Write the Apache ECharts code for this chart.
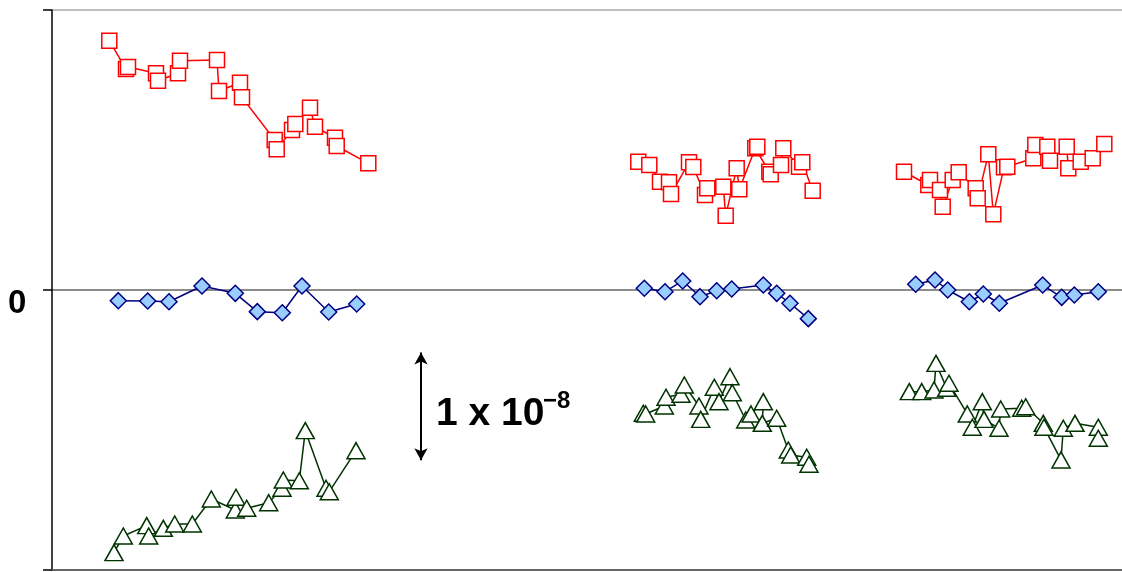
<!DOCTYPE html>
<html>
<head>
<meta charset="utf-8">
<script src="https://cdn.jsdelivr.net/npm/echarts@6/dist/echarts.min.js"></script>
<style>html,body{margin:0;padding:0;background:#fff;}#c{width:1122px;height:572px;}</style>
</head>
<body>
<div id="c"></div>
<script>
// values in units of 1e-8; x in arbitrary time units
const red1 = [[57.3,2.315],[74,2.052],[76,2.071],[104,2.012],[106,1.943],[126,2.012],[128,2.129],[165,2.136],[167,1.848],[188,1.925],[190,1.789],[222.7,1.393],[224.7,1.306],[240,1.486],[243.3,1.541],[258,1.693],[263,1.516],[283,1.414],[284.7,1.337],[316.3,1.176]];
const red2 = [[586.3,1.191],[597.3,1.161],[608,1.006],[617,1.0],[619,0.891],[637,1.186],[641.3,1.142],[653,0.882],[655.3,0.944],[671.3,0.959],[673.7,0.690],[684.7,1.130],[687.3,0.935],[703.3,1.316],[705.3,1.331],[717.3,1.098],[718.7,1.074],[729,1.161],[731.3,1.316],[747,1.145],[750.3,1.186],[760.7,0.922]];
const red3 = [[852,1.098],[876.3,0.975],[878,1.021],[888,0.929],[890.7,0.773],[900.7,1.021],[906.7,1.093],[923.7,0.944],[925.7,0.851],[936.3,1.260],[941.3,0.703],[952,1.139],[955.3,1.145],[981.3,1.223],[983.3,1.346],[995.3,1.331],[998,1.201],[1014.7,1.331],[1016.3,1.130],[1028.7,1.191],[1040.7,1.223],[1052.3,1.356]];
const blue1 = [[66.3,-0.099],[95.7,-0.102],[117,-0.109],[150,0.037],[183.3,-0.031],[205.3,-0.201],[230.3,-0.211],[250,0.037],[276.7,-0.204],[304.7,-0.130]];
const blue2 = [[592.3,0.016],[613,-0.016],[630.7,0.084],[648,-0.062],[664.7,-0.007],[679.7,0.009],[711.3,0.046],[724.7,-0.031],[738,-0.123],[756.3,-0.266]];
const blue3 = [[863.7,0.053],[883,0.093],[895.7,0.0],[917.3,-0.109],[931.3,-0.037],[947.3,-0.123],[990.7,0.046],[1009.7,-0.068],[1022.3,-0.046],[1046.3,-0.016]];
const green1 = [[62,-2.439],[71.3,-2.284],[94.7,-2.188],[96.7,-2.284],[111.3,-2.213],[122.7,-2.173],[140.3,-2.173],[159.3,-1.941],[183.3,-2.043],[184,-1.925],[194.7,-2.027],[216.7,-1.975],[230,-1.841],[231.3,-1.764],[247.3,-1.771],[253.3,-1.306],[274,-1.841],[277.3,-1.873],[304,-1.492]];
const green2 = [[591.3,-1.145],[593.7,-1.151],[612.3,-1.077],[614,-0.996],[629,-0.968],[632.3,-0.882],[647,-1.077],[648.7,-1.201],[662.3,-0.903],[667,-1.037],[678,-0.805],[680.3,-0.954],[693.7,-1.207],[699,-1.151],[711.3,-1.037],[710.3,-1.238],[724.7,-1.191],[736.3,-1.486],[738.7,-1.532],[754.7,-1.553],[757,-1.618]];
const green3 = [[857.3,-0.944],[869.7,-0.944],[882,-0.929],[884,-0.681],[894.7,-0.913],[897,-0.866],[915.3,-1.151],[920.3,-1.275],[930.3,-1.037],[932,-1.201],[947,-1.284],[948.7,-1.105],[969.7,-1.098],[973.7,-1.084],[991.3,-1.238],[992,-1.275],[1009,-1.578],[1011.3,-1.284],[1023,-1.238],[1046.3,-1.275],[1046.3,-1.377]];
const scaleBar = { x: 369, from: -0.58, to: -1.58 };
const scaleText = '1 x 10';
const scaleExp = '\u22128';
const zeroLabel = '0';

const chart = echarts.init(document.getElementById('c'));
function redS(d){return {type:'line',data:d,symbol:'rect',symbolSize:15,lineStyle:{color:'#ff0000',width:1.5},itemStyle:{color:'#ffffff',borderColor:'#ff0000',borderWidth:1.5},z:3,silent:true,animation:false};}
function blueS(d){return {type:'line',data:d,symbol:'diamond',symbolSize:16,lineStyle:{color:'#000080',width:1.5},itemStyle:{color:'#99ccff',borderColor:'#000080',borderWidth:1.5},z:4,silent:true,animation:false};}
function greenS(d){return {type:'line',data:d,symbol:'triangle',symbolSize:[18,16],lineStyle:{color:'#003300',width:1.5},itemStyle:{color:'#ffffff',borderColor:'#003300',borderWidth:1.5},z:3,silent:true,animation:false};}
const series = [redS(red1),redS(red2),redS(red3),greenS(green1),greenS(green2),greenS(green3),blueS(blue1),blueS(blue2),blueS(blue3)];
series.push({
  type:'line', data:[], silent:true, animation:false,
  markLine:{silent:true,animation:false,symbol:['arrow','arrow'],symbolSize:[10,12],label:{show:false},
    lineStyle:{color:'#000',width:2,type:'solid'},
    data:[[{coord:[scaleBar.x,scaleBar.from]},{coord:[scaleBar.x,scaleBar.to]}]]}
});
chart.setOption({
  animation:false,
  grid:{left:52,right:0,top:10,bottom:2,containLabel:false},
  xAxis:{type:'value',min:0,max:1070,axisLine:{show:true,onZero:false,lineStyle:{color:'#666',width:2}},axisTick:{show:false},axisLabel:{show:false},splitLine:{show:false}},
  yAxis:{type:'value',min:-2.6,max:2.6,interval:2.6,
    axisLine:{show:true,lineStyle:{color:'#000',width:1.5}},
    axisTick:{show:true,inside:false,length:9,lineStyle:{color:'#000',width:1.5}},
    axisLabel:{show:false},
    splitLine:{show:true,lineStyle:{color:['#666','#666','#aaa'],width:1.5}}},
  graphic:[
    {type:'text',left:8,top:287,style:{text:zeroLabel,font:'bold 33px Liberation Sans, Arial, sans-serif',fill:'#000'}},
    {type:'text',left:436,top:395,style:{text:scaleText,font:'bold 39px Liberation Sans, Arial, sans-serif',fill:'#000'}},
    {type:'text',left:543,top:389,style:{text:scaleExp,font:'bold 24px Liberation Sans, Arial, sans-serif',fill:'#000'}}
  ],
  series:series
});
</script>
</body>
</html>
